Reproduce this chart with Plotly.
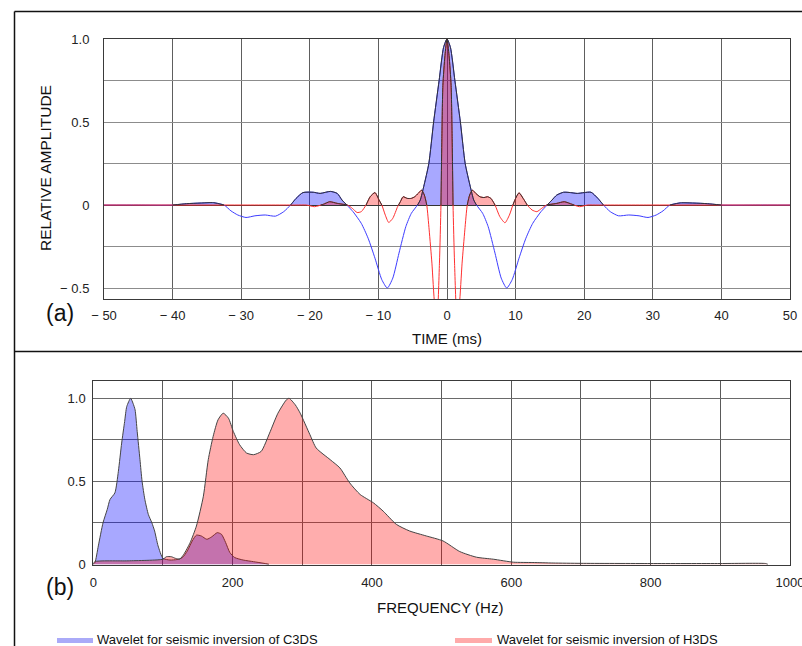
import plotly.graph_objects as go

W, H = 802, 646

# ---------------- Panel (a): time-domain wavelets ----------------
time_c3ds = [-50, -45, -40, -38, -36, -34, -32.5, -31.5, -30.5, -29.3, -28, -26.5, -25, -23.8, -22.8,
             -22, -21, -19.5, -18.5, -17, -16, -15.3, -14.6, -13.7, -12.5, -11.5, -10.5, -9.5, -8.7,
             -7.9, -7.0, -6.0, -5.2, -4.3, -3.9, -3.4, -2.65, -1.95, -1.15, -0.5, 0,
             0.5, 1.15, 1.95, 2.65, 3.4, 3.9, 4.3, 5.2, 6.0, 7.0, 7.9, 8.7, 9.5, 10.5, 11.5, 12.5,
             13.7, 14.6, 15.3, 16, 17, 18, 19, 20, 21, 22, 22.8, 23.8, 25, 26.5, 28, 29.3, 30.5,
             31.5, 32.5, 34, 36, 38, 40, 45, 50]
amp_c3ds = [0, 0, 0, 0.008, 0.012, 0.014, 0, -0.035, -0.06, -0.075, -0.065, -0.06, -0.067, -0.04, 0,
            0.04, 0.075, 0.077, 0.07, 0.082, 0.07, 0.03, 0, -0.04, -0.11, -0.2, -0.32, -0.45, -0.5,
            -0.44, -0.29, -0.13, -0.05, 0, 0.03, 0.11, 0.25, 0.5, 0.75, 0.95, 1.0,
            0.95, 0.75, 0.5, 0.25, 0.11, 0.03, 0, -0.05, -0.13, -0.29, -0.44, -0.5, -0.45, -0.32, -0.2, -0.11,
            -0.04, 0, 0.03, 0.06, 0.077, 0.075, 0.07, 0.075, 0.077, 0.04, 0, -0.04, -0.065, -0.06, -0.065, -0.075, -0.06,
            -0.035, 0, 0.013, 0.012, 0.008, 0, 0, 0]

time_h3ds = [-50, -30, -22, -20.5, -19.3, -18, -17.1, -16, -14.5, -13.8, -13.1, -12.5, -11.8, -11.2, -10.5,
             -9.9, -9.5, -9.0, -8.5, -7.9, -7.2, -6.8, -6.4, -5.8, -5.2, -4.7, -4.2, -3.7, -3.3, -2.95,
             -2.6, -2.2, -1.8, -1.45, -1.1, -0.88, -0.75, -0.6, -0.3, 0,
             0.3, 0.6, 0.75, 0.88, 1.1, 1.45, 1.8, 2.2, 2.6, 2.95, 3.3, 3.7, 4.2, 4.8, 5.4, 5.9, 6.4,
             7.0, 7.7, 8.45, 9.1, 9.6, 10.0, 10.5, 11.1, 11.7, 12.4, 13.1, 13.8, 14.5, 16, 17.1, 18.2,
             19.3, 20.5, 22, 30, 50]
amp_h3ds = [0, 0, 0, 0, -0.01, 0.005, 0.02, 0.01, 0, -0.02, -0.045, -0.04, 0, 0.05, 0.075,
            0.03, 0, -0.06, -0.105, -0.08, -0.01, 0.02, 0.05, 0.04, 0.04, 0.05, 0.07, 0.09, 0.06, 0,
            -0.15, -0.35, -0.6, -0.68, -0.35, 0, 0.4, 0.72, 0.9, 1.0,
            0.9, 0.72, 0.4, 0, -0.35, -0.68, -0.6, -0.35, -0.15, 0, 0.06, 0.09, 0.07, 0.05, 0.045, 0.05, 0.04,
            0, -0.07, -0.107, -0.06, 0, 0.04, 0.074, 0.04, 0, -0.03, -0.04, -0.02, 0, 0.01, 0.02, 0.005,
            -0.01, 0, 0, 0, 0]

# ---------------- Panel (b): amplitude spectra ----------------
freq_c3ds = [0, 2.4, 7.2, 14, 20, 24, 31, 36, 40.7, 45, 48, 53.6, 57, 60, 63, 67, 70, 74, 79, 84, 88, 93,
             100, 110, 120, 128, 135, 142, 148, 155, 163, 170, 178, 184, 190, 196, 203, 215, 230, 245, 252]
spec_c3ds = [0, 0.01, 0.11, 0.25, 0.33, 0.39, 0.43, 0.56, 0.73, 0.86, 0.95, 1.0, 0.97, 0.93, 0.8, 0.63, 0.5,
             0.39, 0.3, 0.25, 0.2, 0.11, 0.035, 0.025, 0.028, 0.04, 0.08, 0.14, 0.175, 0.17, 0.15, 0.165,
             0.19, 0.18, 0.13, 0.07, 0.04, 0.025, 0.015, 0.005, 0]

freq_h3ds = [0, 2, 50, 100, 105, 112, 118, 124, 130, 139, 148, 158, 165, 172, 179, 186.5, 194, 201, 210,
             220, 230, 241, 253, 265, 277, 281, 290, 297, 311, 320, 340, 354, 368, 383, 402, 416, 435,
             454, 478, 502, 526, 550, 574, 603, 631, 660, 700, 800, 900, 965, 968]
spec_h3ds = [0, 0.015, 0.02, 0.03, 0.045, 0.045, 0.035, 0.03, 0.06, 0.13, 0.23, 0.41, 0.63, 0.77, 0.87,
             0.91, 0.88, 0.8, 0.72, 0.67, 0.66, 0.68, 0.79, 0.91, 0.99, 1.0, 0.96, 0.91, 0.78, 0.7, 0.63,
             0.58, 0.49, 0.42, 0.37, 0.32, 0.24, 0.2, 0.17, 0.14, 0.076, 0.042, 0.03, 0.012, 0.01, 0.007,
             0.005, 0.004, 0.004, 0.004, 0]

time_ticks = [-50, -40, -30, -20, -10, 0, 10, 20, 30, 40, 50]
time_tick_text = ["\u2212 50", "\u2212 40", "\u2212 30", "\u2212 20", "\u2212 10", "0", "10", "20", "30", "40", "50"]
amp_grid = [-0.5, -0.25, 0, 0.25, 0.5, 0.75, 1.0]
amp_grid_text = ["\u2212 0.5", "", "0", "", "0.5", "", "1.0"]
freq_grid = [0, 100, 200, 300, 400, 500, 600, 700, 800, 900, 1000]
freq_grid_text = ["0", "", "200", "", "400", "", "600", "", "800", "", "1000"]
spec_grid = [0, 0.25, 0.5, 0.75, 1.0]
spec_grid_text = ["0", "", "0.5", "", "1.0"]

legend_labels = ["Wavelet for seismic inversion of C3DS", "Wavelet for seismic inversion of H3DS"]

BLUE_FILL = "rgba(0,0,255,0.34)"
RED_FILL = "rgba(255,0,0,0.32)"
OUTLINE = "#333333"
FONT = "Liberation Sans, Arial, sans-serif"


def positive_parts(x, y):
    """Insert zero crossings; return clipped series (for fill) and positive segments (for outline)."""
    ax, ay = [], []
    for i in range(len(x)):
        ax.append(x[i]); ay.append(y[i])
        if i < len(x) - 1 and ((y[i] > 0 > y[i + 1]) or (y[i] < 0 < y[i + 1])):
            xc = x[i] + (x[i + 1] - x[i]) * y[i] / (y[i] - y[i + 1])
            ax.append(xc); ay.append(0.0)
    clip = [max(v, 0.0) for v in ay]
    sx, sy = [], []
    for j in range(len(ax)):
        prev_pos = j > 0 and ay[j - 1] > 0
        next_pos = j < len(ax) - 1 and ay[j + 1] > 0
        if ay[j] > 0 or (ay[j] == 0 and (prev_pos or next_pos)):
            sx.append(ax[j]); sy.append(ay[j])
        else:
            if sx and sx[-1] is not None:
                sx.append(None); sy.append(None)
    return ax, clip, sx, sy


fig = go.Figure()

bx, bclip, bsx, bsy = positive_parts(time_c3ds, amp_c3ds)
rx, rclip, rsx, rsy = positive_parts(time_h3ds, amp_h3ds)
SPL = dict(shape="spline", smoothing=0.6)

fig.add_trace(go.Scatter(x=time_c3ds, y=amp_c3ds, mode="lines", xaxis="x", yaxis="y",
                         line=dict(color="#3c3cff", width=1, **SPL), hoverinfo="skip"))
fig.add_trace(go.Scatter(x=bx, y=bclip, mode="lines", fill="tozeroy", fillcolor=BLUE_FILL,
                         xaxis="x", yaxis="y", line=dict(width=0, **SPL), hoverinfo="skip"))
fig.add_trace(go.Scatter(x=time_h3ds, y=amp_h3ds, mode="lines", xaxis="x", yaxis="y",
                         line=dict(color="#ff3030", width=1, **SPL), hoverinfo="skip"))
fig.add_trace(go.Scatter(x=rx, y=rclip, mode="lines", fill="tozeroy", fillcolor=RED_FILL,
                         xaxis="x", yaxis="y", line=dict(width=0, **SPL), hoverinfo="skip"))
fig.add_trace(go.Scatter(x=bsx, y=bsy, mode="lines", xaxis="x", yaxis="y", connectgaps=False,
                         line=dict(color=OUTLINE, width=1, **SPL), hoverinfo="skip"))
fig.add_trace(go.Scatter(x=rsx, y=rsy, mode="lines", xaxis="x", yaxis="y", connectgaps=False,
                         line=dict(color=OUTLINE, width=1, **SPL), hoverinfo="skip"))

fig.add_trace(go.Scatter(x=freq_c3ds, y=spec_c3ds, mode="lines", fill="tozeroy", fillcolor=BLUE_FILL,
                         xaxis="x2", yaxis="y2", line=dict(color="#444444", width=1, **SPL),
                         hoverinfo="skip"))
fig.add_trace(go.Scatter(x=freq_h3ds, y=spec_h3ds, mode="lines", fill="tozeroy", fillcolor=RED_FILL,
                         xaxis="x2", yaxis="y2", line=dict(color="#444444", width=1, **SPL),
                         hoverinfo="skip"))


def px(x):
    return x / W


def py(y):
    return 1 - y / H


tickfont = dict(family=FONT, size=13, color="#222222")
axis_common = dict(showgrid=True, gridwidth=1, showline=True, mirror=True,
                   linecolor="#3a3a3a", linewidth=1, ticks="", tickfont=tickfont, zeroline=False,
                   fixedrange=True, automargin=False, ticklabeloverflow="allow")

fig.update_layout(
    width=W, height=H, margin=dict(l=0, r=0, t=0, b=0, pad=0, autoexpand=False), showlegend=False,
    paper_bgcolor="white", plot_bgcolor="white",
    xaxis=dict(domain=[px(104), px(790)], range=[-50, 50], tickmode="array", tickvals=time_ticks,
               ticktext=time_tick_text, anchor="y", ticklabelstandoff=4, gridcolor="#5e5e5e",
               **axis_common),
    yaxis=dict(domain=[py(299), py(39)], range=[-0.566, 1.0], tickmode="array", tickvals=amp_grid,
               ticktext=amp_grid_text, anchor="x", ticklabelstandoff=11, gridcolor="#8c8c8c",
               **axis_common),
    xaxis2=dict(domain=[px(93.3), px(790)], range=[0, 1000], tickmode="array", tickvals=freq_grid,
                ticktext=freq_grid_text, anchor="y2", ticklabelstandoff=5, gridcolor="#5a5a5a",
                **axis_common),
    yaxis2=dict(domain=[py(565), py(380.7)], range=[-0.005, 1.106], tickmode="array",
                tickvals=spec_grid, ticktext=spec_grid_text, anchor="x2", ticklabelstandoff=4,
                gridcolor="#6a6a6a", **axis_common),
)
fig.update_layout(yaxis=dict(zeroline=True, zerolinecolor="#333333", zerolinewidth=1))

# frame lines around / between panels
frame = dict(color="#111111", width=1.5)
fig.add_shape(type="line", xref="paper", yref="paper", x0=px(14.5), x1=px(802), y0=py(11.5), y1=py(11.5), line=frame)
fig.add_shape(type="line", xref="paper", yref="paper", x0=px(14.5), x1=px(14.5), y0=py(11.5), y1=py(646), line=frame)
fig.add_shape(type="line", xref="paper", yref="paper", x0=px(14.5), x1=px(802), y0=py(351.5), y1=py(351.5), line=frame)

# legend swatches
fig.add_shape(type="line", xref="paper", yref="paper", x0=px(57), x1=px(93), y0=py(640.5), y1=py(640.5),
              line=dict(color="#aaaaf8", width=5))
fig.add_shape(type="line", xref="paper", yref="paper", x0=px(455), x1=px(492), y0=py(640.5), y1=py(640.5),
              line=dict(color="#ffaaaa", width=5))


def label(text, x, y, size, xanchor="center", angle=0):
    fig.add_annotation(text=text, x=px(x), y=py(y), xref="paper", yref="paper", showarrow=False,
                       xanchor=xanchor, yanchor="middle", textangle=angle,
                       font=dict(family=FONT, size=size, color="#111111"))


label("RELATIVE AMPLITUDE", 45, 168, 15.5, angle=-90)
label("TIME (ms)", 447, 338, 15)
label("FREQUENCY (Hz)", 440, 607, 15)
label("(a)", 60, 313, 23)
label("(b)", 60, 587, 23)
label(legend_labels[0], 95, 639.5, 13, xanchor="left")
label(legend_labels[1], 495, 639.5, 13, xanchor="left")

fig.write_html("out.html", config={"displayModeBar": False},
               post_script="document.body.style.margin='0px';document.body.style.overflow='hidden';")
